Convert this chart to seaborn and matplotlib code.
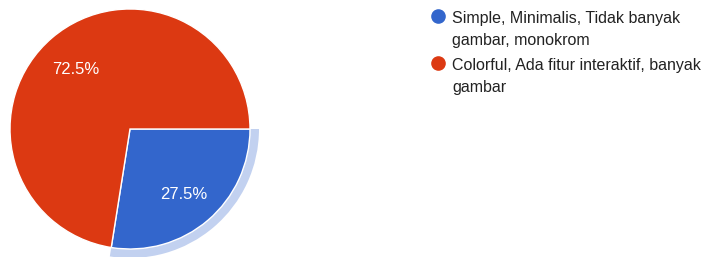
import numpy as np
import seaborn as sns
import matplotlib.pyplot as plt
from matplotlib.lines import Line2D
from matplotlib.patches import Wedge
from matplotlib.legend_handler import HandlerLine2D

# data
categories = ['Simple, Minimalis, Tidak banyak\ngambar, monokrom',
              'Colorful, Ada fitur interaktif, banyak\ngambar']
values = [27.5, 72.5]
colors = ['#3366cc', '#dc3912']
highlight = '#c2d1f0'

sns.set_style('white')
plt.rcParams['font.family'] = ['Liberation Sans', 'DejaVu Sans']


class TopMarker(HandlerLine2D):
    # put the dot next to the first line of a two-line label
    def create_artists(self, legend, orig_handle, xdescent, ydescent,
                       width, height, fontsize, trans):
        arts = super().create_artists(legend, orig_handle, xdescent, ydescent,
                                      width, height, fontsize, trans)
        for a in arts:
            a.set_ydata(np.asarray(a.get_ydata()) + 10)
        return arts


fig = plt.figure(figsize=(7.08, 2.57), dpi=100)
ax = fig.add_axes([10 / 708, 8 / 257, 240 / 708, 240 / 257])

# hover ring behind the first slice
ang = 360 * values[0] / sum(values)
ax.add_patch(Wedge((0, 0), 1.075, -ang, 0, width=0.1, facecolor=highlight,
                   edgecolor='none', zorder=0, clip_on=False))

wedges, texts, autotexts = ax.pie(values, colors=colors, startangle=0,
                                  counterclock=False, autopct='%.1f%%',
                                  pctdistance=0.69,
                                  wedgeprops=dict(edgecolor='white', linewidth=1),
                                  textprops=dict(color='white', fontsize=12))
for t in autotexts:
    x, y = t.get_position()
    t.set_position((x, y - 0.025))
ax.set_xlim(-1, 1)
ax.set_ylim(-1, 1)
ax.set_aspect('equal')
ax.axis('off')

handles = [Line2D([], [], marker='o', linestyle='none', markersize=9.5,
                  markerfacecolor=c, markeredgecolor=c) for c in colors]
leg = fig.legend(handles, categories, loc='upper left',
                 bbox_to_anchor=(424 / 708, 1 - 5 / 257), frameon=False,
                 fontsize=11.5, handlelength=0.9, handletextpad=0.45,
                 labelspacing=0.6, borderaxespad=0,
                 handler_map={Line2D: TopMarker()})
for t in leg.get_texts():
    t.set_color('#222222')
    t.set_linespacing(1.57)

fig.savefig('out.png', dpi=100)
